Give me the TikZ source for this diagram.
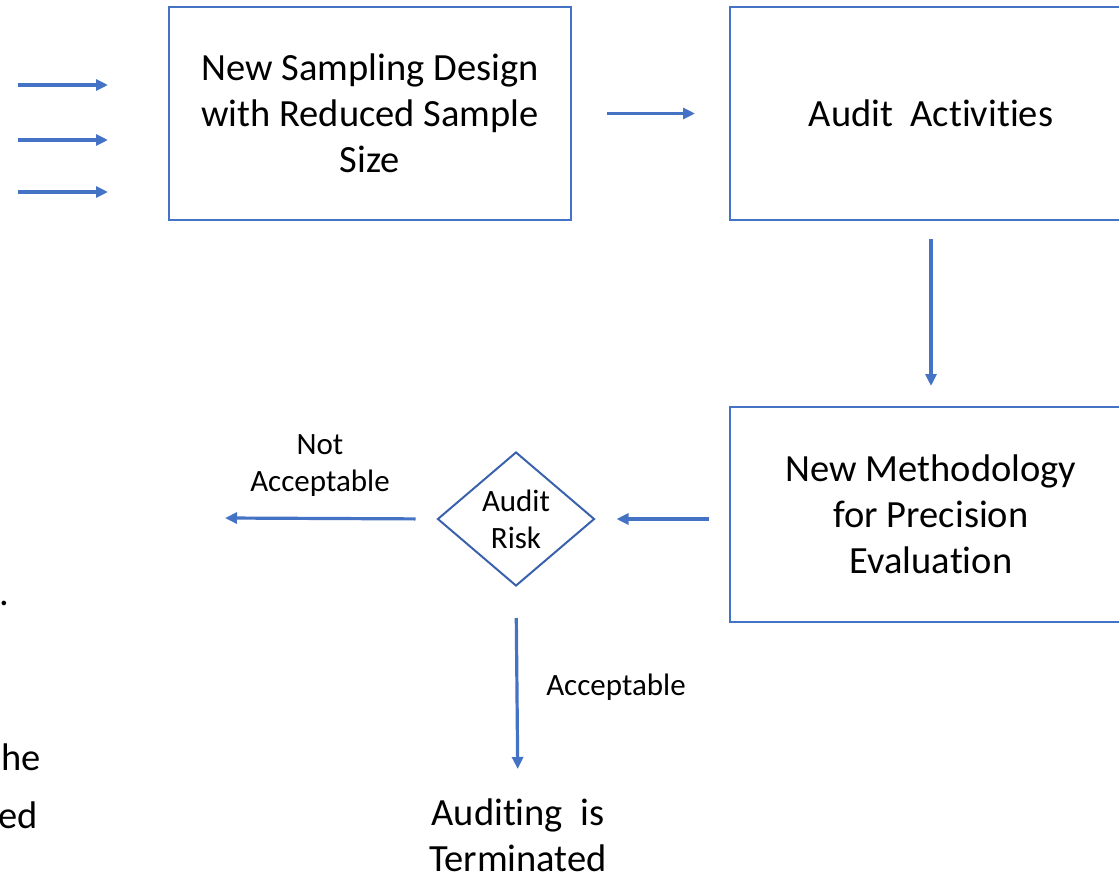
\documentclass[tikz,border=0pt]{standalone}
\usepackage{fontspec}
\setmainfont{Carlito}[Ligatures={NoCommon}]
\usetikzlibrary{arrows.meta,shapes.geometric}
% keep "t" and "i" as separate glyphs
\newcommand{\splitti}{t\kern0pt i}
\definecolor{boxblue}{HTML}{4472C4}
\definecolor{diablue}{HTML}{3A62AC}
\tikzset{
  bigfont/.style={font=\fontsize{38.5bp}{46bp}\selectfont},
  smallfont/.style={font=\fontsize{31bp}{37bp}\selectfont},
  procbox/.style={draw=boxblue, line width=2bp, rectangle, minimum width=402bp,
    minimum height=213bp, align=center, inner sep=0pt, bigfont},
  decision/.style={draw=diablue, line width=2bp, diamond, minimum width=157bp,
    minimum height=134bp, aspect=1.17, inner sep=0pt, align=center, smallfont},
  plaintext/.style={align=center, inner sep=0pt, bigfont},
  smalltext/.style={align=center, inner sep=0pt, smallfont},
  flow/.style={draw=boxblue, line width=3.2bp,
    -{Triangle[length=12bp,width=11bp]}},
}
\begin{document}
\begin{tikzpicture}[x=1bp, y=-1bp]
\useasboundingbox (0,0) rectangle (1119,877);
\clip (0,0) rectangle (1119,877);

% process boxes
\node[procbox] (design) at (370,113.5) {New Sampling Design\\with Reduced Sample\\Size};
\node[procbox] (audit) at (931,113.5) {Audit\ \ Ac\splitti vi\splitti es};
\node[procbox, minimum height=215bp] (method) at (931,514.5) {New Methodology\\for Precision\\Evalua\splitti on};

% decision
\node[decision] (risk) at (516,519) {Audit\\Risk};

% outcome
\node[plaintext, anchor=north, text depth=0pt] (stop) at (518,799) {Audi\splitti ng\ \ is\\Terminated};

% branch labels
\node[smalltext] (notok) at (320,466) {Not\\Acceptable};
\node[smalltext] (ok) at (616,687) {Acceptable};

% text running in from the left edge
\node[plaintext, anchor=base east] (dot) at (9,605) {.};
\node[plaintext, anchor=base east] (he) at (41,770) {he};
\node[plaintext, anchor=base east] (ed) at (38,828) {ed};

% incoming arrows
\coordinate (inA) at (18,85);  \coordinate (inAend) at (108,85);
\coordinate (inB) at (18,140); \coordinate (inBend) at (108,140);
\coordinate (inC) at (18,192); \coordinate (inCend) at (108,192);
\draw[flow] (inA) -- (inAend);
\draw[flow] (inB) -- (inBend);
\draw[flow] (inC) -- (inCend);

% main flow
\draw[flow, shorten <=35bp, shorten >=34bp] (design.east) -- (audit.west);
\draw[flow, shorten <=18bp, shorten >=20bp] (audit.south) -- (method.north);
\draw[flow, shorten <=20bp, shorten >=21bp] (method.west |- risk.east) -- (risk.east);
\coordinate (reject) at (225,518);
\draw[flow, shorten <=21bp] (risk.west) -- (reject);
\draw[flow, shorten <=31bp, shorten >=30bp] (risk.south) -- (stop.north);
\end{tikzpicture}
\end{document}
